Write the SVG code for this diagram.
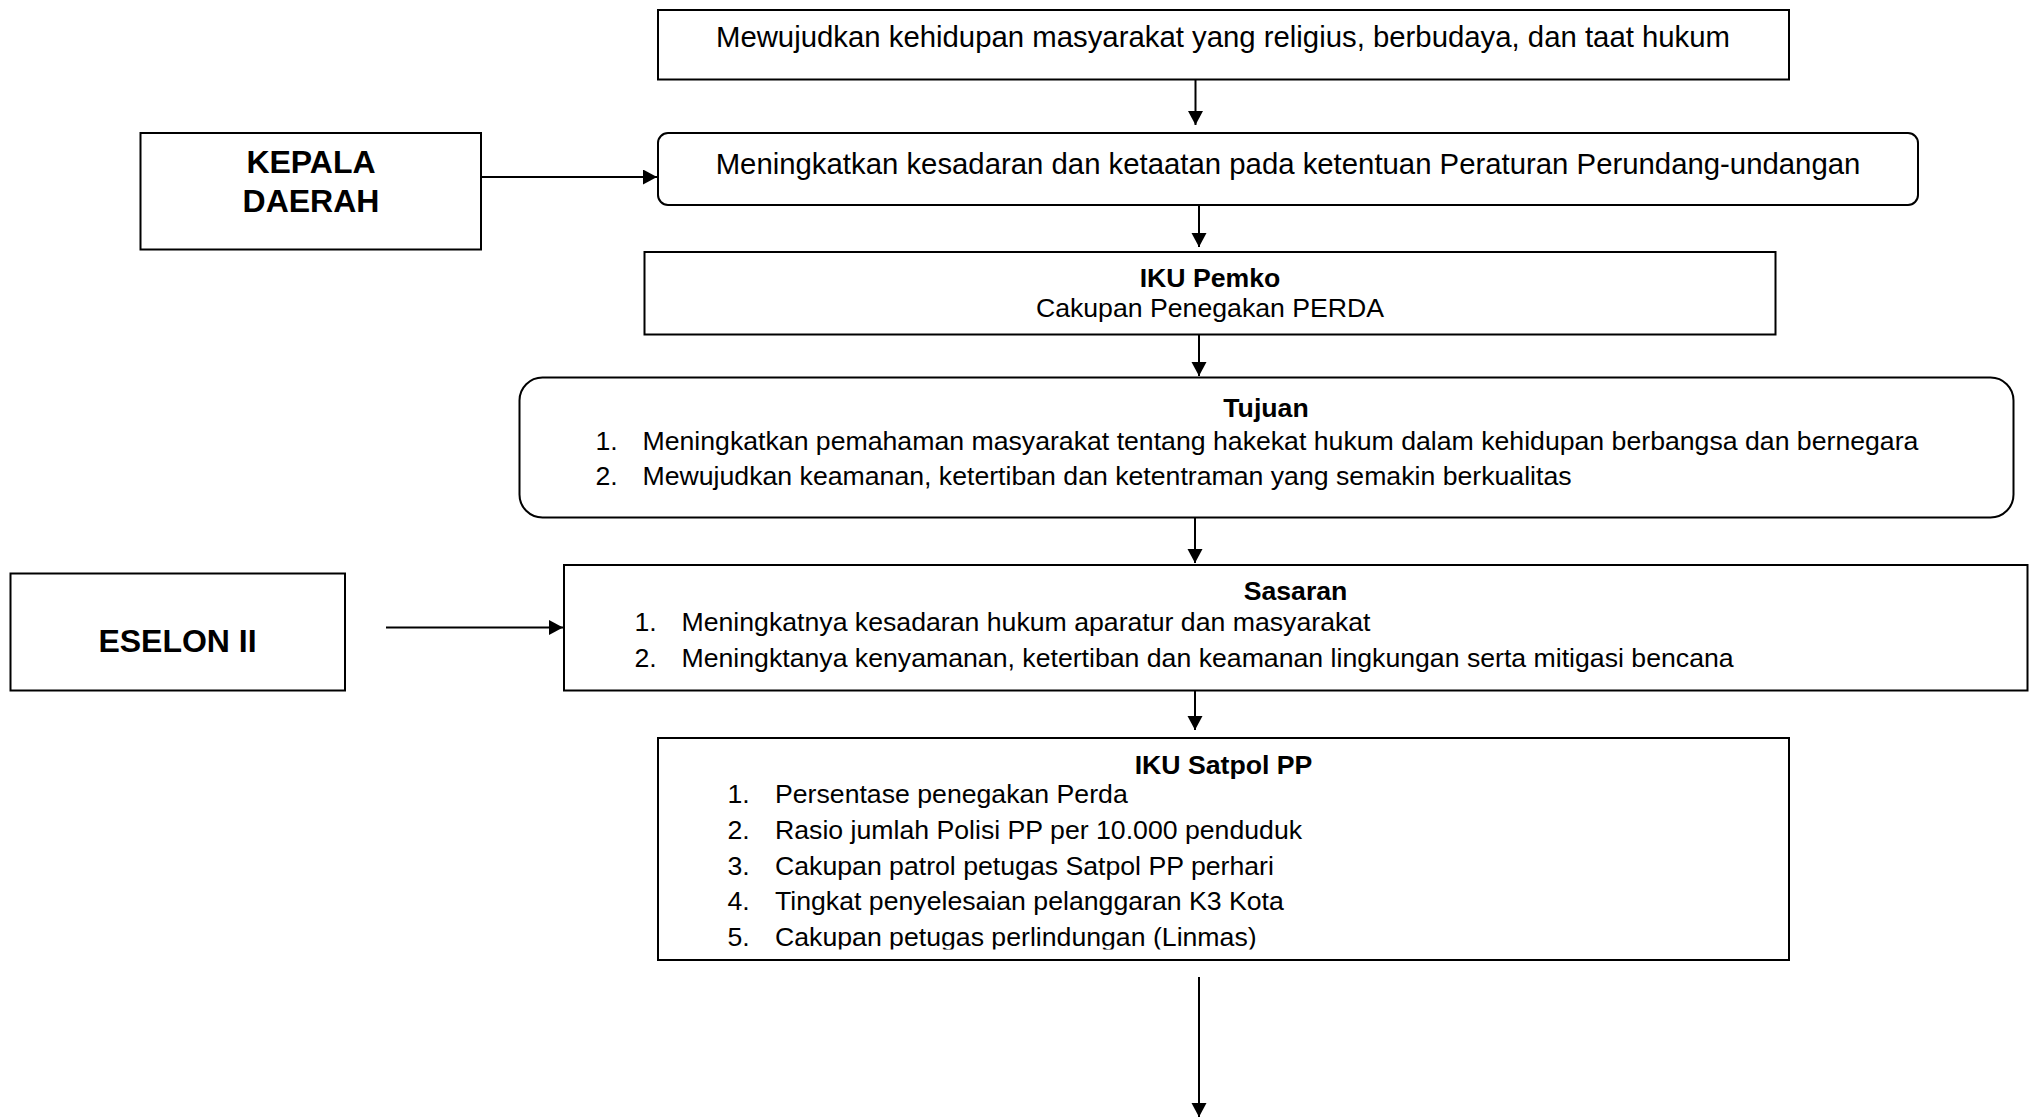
<svg xmlns="http://www.w3.org/2000/svg" width="2038" height="1118" viewBox="0 0 2038 1118">
<style>
.box{fill:#fff;stroke:#000;stroke-width:2}
.t{font-family:"Liberation Sans",Arial,sans-serif;fill:#000}
.big{font-size:29.33px}
.n{font-size:26.67px}
.b{font-size:26.67px;font-weight:bold}
.hb{font-size:32px;font-weight:bold}
.c{text-anchor:middle}
.conn{stroke:#000;stroke-width:2;fill:none;marker-end:url(#ah)}
</style>
<defs>
<marker id="ah" markerUnits="userSpaceOnUse" markerWidth="15" markerHeight="16" refX="14" refY="7.5" orient="auto">
<path d="M0,0 L14,7.5 L0,15 z" fill="#000"/>
</marker>
<clipPath id="clipSat"><rect x="658" y="738" width="1131" height="211.5"/></clipPath>
</defs>
<rect width="2038" height="1118" fill="#fff"/>

<g id="connectors">
<line class="conn" x1="1195.5" y1="80" x2="1195.5" y2="125"/>
<line class="conn" x1="481" y1="177" x2="657" y2="177"/>
<line class="conn" x1="1199" y1="206" x2="1199" y2="247"/>
<line class="conn" x1="1199" y1="335" x2="1199" y2="376"/>
<line class="conn" x1="1195" y1="518" x2="1195" y2="563"/>
<line class="conn" x1="386" y1="627.5" x2="563" y2="627.5"/>
<line class="conn" x1="1195" y1="691" x2="1195" y2="730"/>
<line class="conn" x1="1199" y1="977" x2="1199" y2="1117"/>
</g>

<g id="visi">
<rect class="box" x="658" y="10" width="1131" height="69.5"/>
<text class="t big c" x="1223" y="47">Mewujudkan kehidupan masyarakat yang religius, berbudaya, dan taat hukum</text>
</g>

<g id="misi">
<rect class="box" x="658" y="133" width="1260" height="72" rx="10" ry="10"/>
<text class="t big c" x="1288" y="174">Meningkatkan kesadaran dan ketaatan pada ketentuan Peraturan Perundang-undangan</text>
</g>

<g id="kepala-daerah">
<rect class="box" x="140.5" y="133" width="340.5" height="116.5"/>
<text class="t hb c" x="311" y="173">KEPALA</text>
<text class="t hb c" x="311" y="212">DAERAH</text>
</g>

<g id="iku-pemko">
<rect class="box" x="644.5" y="252" width="1131" height="82.5"/>
<text class="t b c" x="1210" y="287">IKU Pemko</text>
<text class="t n c" x="1210" y="317">Cakupan Penegakan PERDA</text>
</g>

<g id="tujuan">
<rect class="box" x="519.5" y="377.5" width="1494" height="140" rx="23" ry="23"/>
<text class="t b c" x="1266" y="417">Tujuan</text>
<text class="t n" x="595.5" y="450">1.</text>
<text class="t n" x="642.5" y="450">Meningkatkan pemahaman masyarakat tentang hakekat hukum dalam kehidupan berbangsa dan bernegara</text>
<text class="t n" x="595.5" y="485">2.</text>
<text class="t n" x="642.5" y="485">Mewujudkan keamanan, ketertiban dan ketentraman yang semakin berkualitas</text>
</g>

<g id="eselon-ii">
<rect class="box" x="10.5" y="573.5" width="334.5" height="117"/>
<text class="t hb c" x="177.5" y="652">ESELON II</text>
</g>

<g id="sasaran">
<rect class="box" x="564" y="565" width="1463.5" height="125.5"/>
<text class="t b c" x="1295.5" y="600">Sasaran</text>
<text class="t n" x="634.5" y="631">1.</text>
<text class="t n" x="681.5" y="631">Meningkatnya kesadaran hukum aparatur dan masyarakat</text>
<text class="t n" x="634.5" y="667">2.</text>
<text class="t n" x="681.5" y="667">Meningktanya kenyamanan, ketertiban dan keamanan lingkungan serta mitigasi bencana</text>
</g>

<g id="iku-satpol-pp">
<rect class="box" x="658" y="738" width="1131" height="222"/>
<text class="t b c" x="1223.5" y="773.5">IKU Satpol PP</text>
<g clip-path="url(#clipSat)">
<text class="t n" x="727.5" y="803">1.</text>
<text class="t n" x="775" y="803">Persentase penegakan Perda</text>
<text class="t n" x="727.5" y="839">2.</text>
<text class="t n" x="775" y="839">Rasio jumlah Polisi PP per 10.000 penduduk</text>
<text class="t n" x="727.5" y="874.5">3.</text>
<text class="t n" x="775" y="874.5">Cakupan patrol petugas Satpol PP perhari</text>
<text class="t n" x="727.5" y="910">4.</text>
<text class="t n" x="775" y="910">Tingkat penyelesaian pelanggaran K3 Kota</text>
<text class="t n" x="727.5" y="945.5">5.</text>
<text class="t n" x="775" y="945.5">Cakupan petugas perlindungan (Linmas)</text>
</g>
</g>
</svg>
